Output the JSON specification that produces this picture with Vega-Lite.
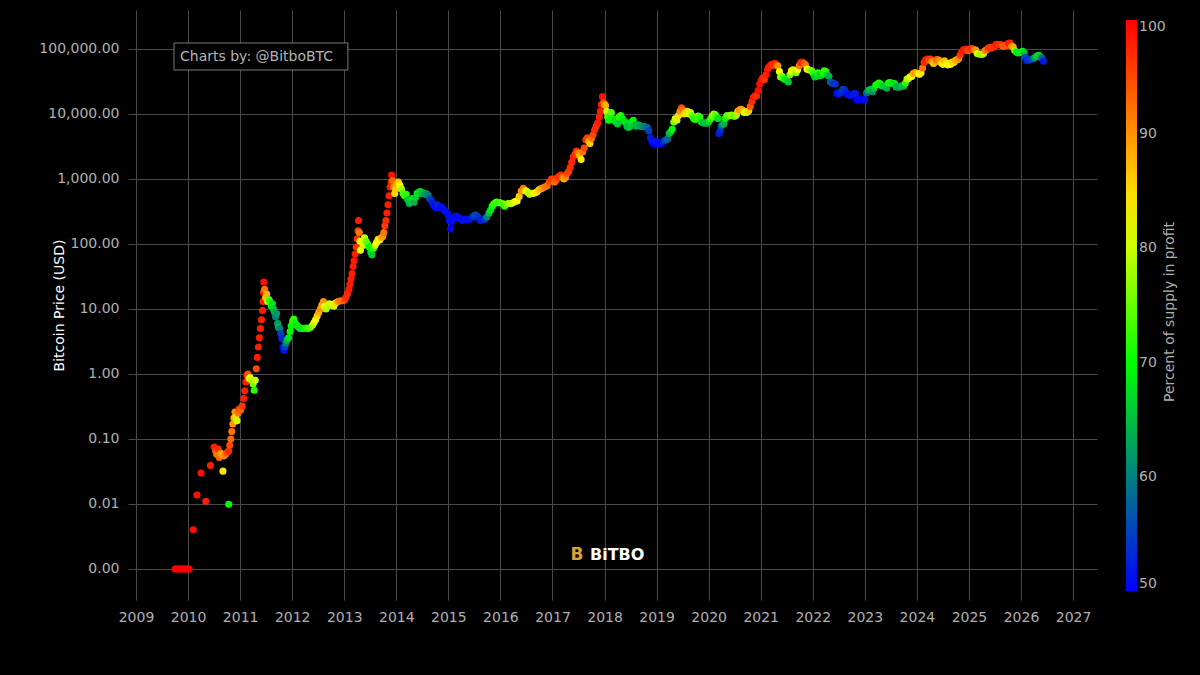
{
  "$schema": "https://vega.github.io/schema/vega-lite/v6.json",
  "width": 969,
  "height": 590,
  "autosize": {"type": "none"},
  "padding": {"left": 128, "top": 10, "right": 103, "bottom": 75},
  "background": "#000000",
  "datasets": {
    "btc": [
      {"t":2009.75,"p":0.001,"s":100},{"t":2009.78,"p":0.001,"s":100},{"t":2009.81,"p":0.001,"s":100},{"t":2009.84,"p":0.001,"s":100},
      {"t":2009.87,"p":0.001,"s":100},{"t":2009.90,"p":0.001,"s":100},{"t":2009.93,"p":0.001,"s":100},{"t":2009.96,"p":0.001,"s":100},
      {"t":2009.99,"p":0.001,"s":100},{"t":2010.02,"p":0.001,"s":100},
      {"t":2010.10,"p":0.004,"s":99},{"t":2010.17,"p":0.0137,"s":99},{"t":2010.25,"p":0.030,"s":99},{"t":2010.34,"p":0.011,"s":98},
      {"t":2010.43,"p":0.039,"s":98},{"t":2010.67,"p":0.032,"s":84},{"t":2010.78,"p":0.0099,"s":70},
      {"t":2010.50,"p":0.075,"s":98},{"t":2010.53,"p":0.065,"s":95},{"t":2010.55,"p":0.058,"s":92},{"t":2010.58,"p":0.070,"s":97},
      {"t":2010.60,"p":0.052,"s":93},{"t":2010.63,"p":0.060,"s":90},{"t":2010.66,"p":0.057,"s":88},{"t":2010.69,"p":0.055,"s":90},
      {"t":2010.72,"p":0.058,"s":92},{"t":2010.75,"p":0.062,"s":95},{"t":2010.78,"p":0.065,"s":97},{"t":2010.80,"p":0.080,"s":95},
      {"t":2010.82,"p":0.10,"s":93},{"t":2010.84,"p":0.13,"s":92},{"t":2010.86,"p":0.17,"s":90},{"t":2010.88,"p":0.21,"s":88},
      {"t":2010.90,"p":0.26,"s":90},{"t":2010.92,"p":0.22,"s":85},{"t":2010.94,"p":0.19,"s":80},{"t":2010.96,"p":0.25,"s":92},
      {"t":2010.98,"p":0.29,"s":96},{"t":2011.01,"p":0.28,"s":93},{"t":2011.04,"p":0.32,"s":96},{"t":2011.07,"p":0.42,"s":98},
      {"t":2011.09,"p":0.55,"s":98},{"t":2011.11,"p":0.75,"s":98},{"t":2011.13,"p":0.95,"s":98},{"t":2011.15,"p":1.0,"s":95},
      {"t":2011.17,"p":0.85,"s":85},{"t":2011.19,"p":0.88,"s":82},{"t":2011.22,"p":0.80,"s":78},{"t":2011.25,"p":0.70,"s":76},
      {"t":2011.27,"p":0.56,"s":72},{"t":2011.29,"p":0.80,"s":80},{"t":2011.31,"p":1.2,"s":95},{"t":2011.33,"p":1.8,"s":98},
      {"t":2011.35,"p":2.6,"s":98},{"t":2011.37,"p":3.6,"s":98},{"t":2011.39,"p":5.0,"s":98},{"t":2011.41,"p":6.8,"s":98},
      {"t":2011.43,"p":9.5,"s":98},{"t":2011.44,"p":13,"s":98},{"t":2011.45,"p":18,"s":98},{"t":2011.455,"p":26,"s":99},
      {"t":2011.47,"p":20,"s":92},{"t":2011.49,"p":15,"s":86},{"t":2011.51,"p":17,"s":88},{"t":2011.53,"p":13,"s":80},
      {"t":2011.55,"p":14,"s":75},{"t":2011.57,"p":13,"s":72},{"t":2011.60,"p":11,"s":70},{"t":2011.62,"p":12,"s":68},
      {"t":2011.64,"p":10,"s":66},{"t":2011.66,"p":9,"s":64},{"t":2011.68,"p":7.6,"s":60},{"t":2011.70,"p":8.5,"s":62},
      {"t":2011.72,"p":6,"s":62},{"t":2011.74,"p":5.2,"s":66},{"t":2011.76,"p":5,"s":60},{"t":2011.78,"p":4.2,"s":55},
      {"t":2011.80,"p":3.5,"s":53},{"t":2011.82,"p":2.6,"s":51},{"t":2011.84,"p":2.3,"s":51},{"t":2011.86,"p":2.6,"s":55},
      {"t":2011.88,"p":3.0,"s":60},{"t":2011.90,"p":3.3,"s":64},{"t":2011.93,"p":3.6,"s":68},{"t":2011.96,"p":4.5,"s":70},
      {"t":2011.98,"p":5.5,"s":70},{"t":2012.01,"p":6.5,"s":72},{"t":2012.03,"p":7.0,"s":72},{"t":2012.06,"p":6.0,"s":70},
      {"t":2012.09,"p":5.6,"s":68},{"t":2012.12,"p":5.3,"s":70},{"t":2012.15,"p":5.0,"s":68},{"t":2012.19,"p":5.0,"s":68},
      {"t":2012.23,"p":5.0,"s":70},{"t":2012.27,"p":5.1,"s":72},{"t":2012.31,"p":5.0,"s":72},{"t":2012.35,"p":5.2,"s":74},
      {"t":2012.39,"p":5.6,"s":78},{"t":2012.42,"p":6.2,"s":80},{"t":2012.45,"p":6.8,"s":82},{"t":2012.48,"p":7.8,"s":85},
      {"t":2012.51,"p":8.8,"s":88},{"t":2012.54,"p":10,"s":90},{"t":2012.57,"p":11.5,"s":88},{"t":2012.60,"p":13,"s":90},
      {"t":2012.62,"p":11,"s":82},{"t":2012.65,"p":10,"s":78},{"t":2012.68,"p":11,"s":80},{"t":2012.71,"p":12,"s":80},
      {"t":2012.74,"p":11.5,"s":78},{"t":2012.77,"p":11.8,"s":82},{"t":2012.80,"p":11,"s":80},{"t":2012.84,"p":12.5,"s":85},
      {"t":2012.88,"p":13,"s":90},{"t":2012.92,"p":13.3,"s":92},{"t":2012.96,"p":13.4,"s":92},{"t":2013.00,"p":13.6,"s":95},
      {"t":2013.03,"p":15,"s":97},{"t":2013.06,"p":17,"s":97},{"t":2013.09,"p":20,"s":98},{"t":2013.11,"p":24,"s":98},
      {"t":2013.13,"p":29,"s":98},{"t":2013.15,"p":35,"s":98},{"t":2013.17,"p":45,"s":98},{"t":2013.19,"p":55,"s":98},
      {"t":2013.21,"p":70,"s":98},{"t":2013.23,"p":90,"s":97},{"t":2013.25,"p":120,"s":97},{"t":2013.265,"p":160,"s":96},
      {"t":2013.275,"p":230,"s":98},{"t":2013.29,"p":150,"s":92},{"t":2013.30,"p":110,"s":85},{"t":2013.31,"p":80,"s":82},
      {"t":2013.33,"p":110,"s":82},{"t":2013.36,"p":95,"s":80},{"t":2013.39,"p":125,"s":80},{"t":2013.42,"p":110,"s":75},
      {"t":2013.45,"p":100,"s":74},{"t":2013.48,"p":90,"s":70},{"t":2013.51,"p":75,"s":68},{"t":2013.53,"p":68,"s":66},
      {"t":2013.56,"p":85,"s":72},{"t":2013.59,"p":95,"s":80},{"t":2013.62,"p":105,"s":82},{"t":2013.65,"p":118,"s":85},
      {"t":2013.68,"p":115,"s":82},{"t":2013.71,"p":125,"s":88},{"t":2013.74,"p":130,"s":90},{"t":2013.76,"p":150,"s":92},
      {"t":2013.78,"p":190,"s":96},{"t":2013.80,"p":230,"s":97},{"t":2013.82,"p":300,"s":98},{"t":2013.84,"p":400,"s":98},
      {"t":2013.86,"p":550,"s":98},{"t":2013.88,"p":750,"s":98},{"t":2013.90,"p":900,"s":98},{"t":2013.91,"p":1150,"s":99},
      {"t":2013.93,"p":950,"s":93},{"t":2013.95,"p":750,"s":90},{"t":2013.97,"p":600,"s":85},{"t":2013.99,"p":700,"s":86},
      {"t":2014.02,"p":850,"s":88},{"t":2014.04,"p":900,"s":86},{"t":2014.07,"p":800,"s":82},{"t":2014.10,"p":700,"s":78},
      {"t":2014.13,"p":600,"s":74},{"t":2014.16,"p":550,"s":72},{"t":2014.19,"p":580,"s":72},{"t":2014.22,"p":480,"s":66},
      {"t":2014.25,"p":420,"s":64},{"t":2014.28,"p":450,"s":66},{"t":2014.31,"p":500,"s":68},{"t":2014.34,"p":440,"s":64},
      {"t":2014.37,"p":520,"s":66},{"t":2014.40,"p":600,"s":68},{"t":2014.43,"p":620,"s":67},{"t":2014.46,"p":640,"s":68},
      {"t":2014.49,"p":600,"s":65},{"t":2014.52,"p":610,"s":65},{"t":2014.55,"p":580,"s":62},{"t":2014.58,"p":590,"s":62},
      {"t":2014.61,"p":560,"s":60},{"t":2014.64,"p":500,"s":56},{"t":2014.67,"p":470,"s":54},{"t":2014.70,"p":420,"s":52},
      {"t":2014.73,"p":380,"s":51},{"t":2014.76,"p":360,"s":51},{"t":2014.79,"p":400,"s":53},{"t":2014.82,"p":380,"s":52},
      {"t":2014.85,"p":360,"s":51},{"t":2014.88,"p":370,"s":51},{"t":2014.91,"p":340,"s":51},{"t":2014.94,"p":320,"s":51},
      {"t":2014.97,"p":310,"s":51},{"t":2015.00,"p":280,"s":51},{"t":2015.02,"p":230,"s":51},{"t":2015.04,"p":170,"s":50},
      {"t":2015.06,"p":220,"s":51},{"t":2015.09,"p":240,"s":51},{"t":2015.12,"p":255,"s":51},{"t":2015.15,"p":270,"s":51},
      {"t":2015.18,"p":260,"s":51},{"t":2015.21,"p":250,"s":51},{"t":2015.24,"p":240,"s":51},{"t":2015.27,"p":230,"s":51},
      {"t":2015.30,"p":235,"s":51},{"t":2015.33,"p":240,"s":51},{"t":2015.36,"p":235,"s":51},{"t":2015.40,"p":240,"s":51},
      {"t":2015.44,"p":250,"s":52},{"t":2015.48,"p":270,"s":54},{"t":2015.52,"p":280,"s":56},{"t":2015.55,"p":270,"s":55},
      {"t":2015.58,"p":250,"s":54},{"t":2015.61,"p":230,"s":52},{"t":2015.64,"p":240,"s":53},{"t":2015.67,"p":235,"s":52},
      {"t":2015.70,"p":240,"s":54},{"t":2015.74,"p":260,"s":60},{"t":2015.78,"p":300,"s":65},{"t":2015.81,"p":330,"s":68},
      {"t":2015.84,"p":380,"s":70},{"t":2015.87,"p":410,"s":72},{"t":2015.90,"p":430,"s":72},{"t":2015.93,"p":440,"s":74},
      {"t":2015.96,"p":430,"s":72},{"t":2016.00,"p":430,"s":74},{"t":2016.04,"p":420,"s":74},{"t":2016.08,"p":380,"s":72},
      {"t":2016.12,"p":410,"s":76},{"t":2016.16,"p":420,"s":78},{"t":2016.20,"p":415,"s":78},{"t":2016.24,"p":430,"s":80},
      {"t":2016.28,"p":450,"s":82},{"t":2016.32,"p":460,"s":82},{"t":2016.36,"p":540,"s":86},{"t":2016.40,"p":650,"s":90},
      {"t":2016.44,"p":720,"s":92},{"t":2016.47,"p":660,"s":86},{"t":2016.50,"p":650,"s":82},{"t":2016.53,"p":620,"s":80},
      {"t":2016.56,"p":580,"s":78},{"t":2016.59,"p":600,"s":80},{"t":2016.62,"p":600,"s":80},{"t":2016.66,"p":610,"s":82},
      {"t":2016.70,"p":630,"s":84},{"t":2016.74,"p":680,"s":86},{"t":2016.78,"p":710,"s":88},{"t":2016.82,"p":730,"s":90},
      {"t":2016.86,"p":760,"s":92},{"t":2016.90,"p":790,"s":92},{"t":2016.94,"p":900,"s":95},{"t":2016.98,"p":1000,"s":97},
      {"t":2017.01,"p":1000,"s":96},{"t":2017.04,"p":900,"s":92},{"t":2017.07,"p":960,"s":94},{"t":2017.10,"p":1050,"s":96},
      {"t":2017.13,"p":1100,"s":97},{"t":2017.16,"p":1150,"s":97},{"t":2017.19,"p":1050,"s":92},{"t":2017.22,"p":1000,"s":88},
      {"t":2017.25,"p":1050,"s":90},{"t":2017.28,"p":1200,"s":95},{"t":2017.31,"p":1300,"s":96},{"t":2017.34,"p":1500,"s":97},
      {"t":2017.37,"p":1800,"s":97},{"t":2017.40,"p":2200,"s":98},{"t":2017.43,"p":2400,"s":97},{"t":2017.46,"p":2700,"s":97},
      {"t":2017.49,"p":2500,"s":92},{"t":2017.52,"p":2300,"s":88},{"t":2017.55,"p":2000,"s":84},{"t":2017.58,"p":2600,"s":92},
      {"t":2017.61,"p":3000,"s":95},{"t":2017.64,"p":4000,"s":97},{"t":2017.67,"p":4300,"s":96},{"t":2017.70,"p":3800,"s":88},
      {"t":2017.72,"p":3500,"s":86},{"t":2017.75,"p":4200,"s":92},{"t":2017.78,"p":4800,"s":95},{"t":2017.81,"p":5700,"s":97},
      {"t":2017.84,"p":6500,"s":97},{"t":2017.87,"p":7300,"s":98},{"t":2017.90,"p":9000,"s":98},{"t":2017.92,"p":11000,"s":98},
      {"t":2017.94,"p":14000,"s":98},{"t":2017.96,"p":18500,"s":99},{"t":2017.98,"p":15000,"s":95},{"t":2018.00,"p":14000,"s":90},
      {"t":2018.02,"p":13500,"s":88},{"t":2018.04,"p":11000,"s":80},{"t":2018.06,"p":9000,"s":74},{"t":2018.08,"p":8000,"s":70},
      {"t":2018.10,"p":9500,"s":72},{"t":2018.13,"p":10500,"s":74},{"t":2018.16,"p":8500,"s":70},{"t":2018.19,"p":8000,"s":68},
      {"t":2018.22,"p":7500,"s":68},{"t":2018.25,"p":7000,"s":66},{"t":2018.28,"p":9000,"s":72},{"t":2018.31,"p":9500,"s":72},
      {"t":2018.34,"p":8500,"s":70},{"t":2018.37,"p":7800,"s":68},{"t":2018.40,"p":7500,"s":68},{"t":2018.43,"p":6500,"s":66},
      {"t":2018.46,"p":6200,"s":65},{"t":2018.49,"p":6500,"s":66},{"t":2018.52,"p":7500,"s":68},{"t":2018.55,"p":8000,"s":70},
      {"t":2018.58,"p":6800,"s":66},{"t":2018.61,"p":6500,"s":64},{"t":2018.64,"p":6800,"s":65},{"t":2018.67,"p":6600,"s":64},
      {"t":2018.70,"p":6500,"s":63},{"t":2018.73,"p":6400,"s":62},{"t":2018.76,"p":6400,"s":61},{"t":2018.79,"p":6300,"s":60},
      {"t":2018.82,"p":6200,"s":58},{"t":2018.85,"p":5500,"s":55},{"t":2018.88,"p":4300,"s":52},{"t":2018.91,"p":3800,"s":51},
      {"t":2018.94,"p":3500,"s":51},{"t":2018.97,"p":3400,"s":50},{"t":2019.00,"p":3800,"s":52},{"t":2019.03,"p":3600,"s":51},
      {"t":2019.06,"p":3500,"s":51},{"t":2019.09,"p":3500,"s":51},{"t":2019.12,"p":3700,"s":52},{"t":2019.15,"p":3900,"s":54},
      {"t":2019.18,"p":4000,"s":56},{"t":2019.21,"p":4100,"s":58},{"t":2019.24,"p":5000,"s":64},{"t":2019.27,"p":5300,"s":66},
      {"t":2019.30,"p":5800,"s":70},{"t":2019.33,"p":7500,"s":76},{"t":2019.36,"p":8500,"s":80},{"t":2019.39,"p":8000,"s":80},
      {"t":2019.42,"p":9500,"s":85},{"t":2019.45,"p":11000,"s":90},{"t":2019.48,"p":12500,"s":95},{"t":2019.50,"p":11500,"s":92},
      {"t":2019.53,"p":10000,"s":85},{"t":2019.56,"p":10500,"s":84},{"t":2019.59,"p":11000,"s":85},{"t":2019.62,"p":10000,"s":80},
      {"t":2019.65,"p":10500,"s":80},{"t":2019.68,"p":9500,"s":76},{"t":2019.71,"p":8500,"s":72},{"t":2019.74,"p":8200,"s":70},
      {"t":2019.77,"p":8500,"s":72},{"t":2019.80,"p":9300,"s":76},{"t":2019.83,"p":9000,"s":72},{"t":2019.86,"p":7500,"s":68},
      {"t":2019.89,"p":7300,"s":66},{"t":2019.92,"p":7200,"s":65},{"t":2019.95,"p":7300,"s":66},{"t":2019.98,"p":7200,"s":64},
      {"t":2020.01,"p":7800,"s":68},{"t":2020.04,"p":8500,"s":72},{"t":2020.07,"p":9300,"s":76},{"t":2020.10,"p":10000,"s":78},
      {"t":2020.13,"p":9700,"s":75},{"t":2020.16,"p":8800,"s":72},{"t":2020.18,"p":8500,"s":68},{"t":2020.20,"p":5000,"s":52},
      {"t":2020.22,"p":5500,"s":53},{"t":2020.24,"p":6500,"s":56},{"t":2020.26,"p":6800,"s":60},{"t":2020.29,"p":7000,"s":64},
      {"t":2020.32,"p":8500,"s":70},{"t":2020.35,"p":9500,"s":74},{"t":2020.38,"p":9300,"s":74},{"t":2020.41,"p":9400,"s":76},
      {"t":2020.44,"p":9600,"s":78},{"t":2020.47,"p":9300,"s":75},{"t":2020.50,"p":9200,"s":74},{"t":2020.53,"p":9600,"s":78},
      {"t":2020.56,"p":11000,"s":86},{"t":2020.59,"p":11500,"s":90},{"t":2020.62,"p":11800,"s":90},{"t":2020.65,"p":11500,"s":88},
      {"t":2020.68,"p":10500,"s":80},{"t":2020.71,"p":10700,"s":82},{"t":2020.74,"p":10600,"s":80},{"t":2020.77,"p":11200,"s":86},
      {"t":2020.80,"p":13000,"s":94},{"t":2020.83,"p":15500,"s":97},{"t":2020.86,"p":18000,"s":98},{"t":2020.89,"p":19000,"s":98},
      {"t":2020.92,"p":19000,"s":97},{"t":2020.95,"p":23000,"s":99},{"t":2020.98,"p":29000,"s":99},{"t":2021.01,"p":33000,"s":99},
      {"t":2021.04,"p":36000,"s":98},{"t":2021.07,"p":34000,"s":96},{"t":2021.10,"p":40000,"s":98},{"t":2021.13,"p":48000,"s":99},
      {"t":2021.15,"p":52000,"s":98},{"t":2021.18,"p":55000,"s":98},{"t":2021.21,"p":58000,"s":98},{"t":2021.24,"p":56000,"s":96},
      {"t":2021.27,"p":60000,"s":98},{"t":2021.30,"p":56000,"s":95},{"t":2021.33,"p":55000,"s":90},{"t":2021.36,"p":45000,"s":82},
      {"t":2021.38,"p":37000,"s":76},{"t":2021.41,"p":38000,"s":76},{"t":2021.44,"p":35000,"s":72},{"t":2021.47,"p":34000,"s":70},
      {"t":2021.50,"p":33000,"s":68},{"t":2021.53,"p":31000,"s":66},{"t":2021.56,"p":40000,"s":76},{"t":2021.59,"p":46000,"s":82},
      {"t":2021.62,"p":48000,"s":84},{"t":2021.65,"p":47000,"s":80},{"t":2021.68,"p":43000,"s":76},{"t":2021.71,"p":48000,"s":82},
      {"t":2021.74,"p":55000,"s":92},{"t":2021.77,"p":62000,"s":97},{"t":2021.80,"p":63000,"s":98},{"t":2021.83,"p":60000,"s":95},
      {"t":2021.86,"p":57000,"s":92},{"t":2021.89,"p":49000,"s":82},{"t":2021.92,"p":48000,"s":80},{"t":2021.95,"p":47000,"s":78},
      {"t":2021.98,"p":46000,"s":76},{"t":2022.01,"p":42000,"s":72},{"t":2022.04,"p":37000,"s":66},{"t":2022.07,"p":38000,"s":67},
      {"t":2022.10,"p":43000,"s":72},{"t":2022.13,"p":40000,"s":68},{"t":2022.16,"p":39000,"s":66},{"t":2022.19,"p":42000,"s":70},
      {"t":2022.22,"p":46000,"s":72},{"t":2022.25,"p":45000,"s":72},{"t":2022.28,"p":40000,"s":66},{"t":2022.31,"p":38000,"s":64},
      {"t":2022.34,"p":31000,"s":58},{"t":2022.37,"p":30000,"s":56},{"t":2022.40,"p":29500,"s":55},{"t":2022.43,"p":29000,"s":54},
      {"t":2022.46,"p":21000,"s":51},{"t":2022.49,"p":20000,"s":51},{"t":2022.52,"p":21000,"s":52},{"t":2022.55,"p":22000,"s":53},
      {"t":2022.58,"p":24000,"s":55},{"t":2022.61,"p":23500,"s":54},{"t":2022.64,"p":21000,"s":52},{"t":2022.67,"p":20000,"s":51},
      {"t":2022.70,"p":19500,"s":51},{"t":2022.73,"p":19200,"s":51},{"t":2022.76,"p":20000,"s":51},{"t":2022.79,"p":20500,"s":52},
      {"t":2022.82,"p":20800,"s":52},{"t":2022.85,"p":16500,"s":50},{"t":2022.88,"p":16500,"s":50},{"t":2022.91,"p":17000,"s":51},
      {"t":2022.94,"p":16800,"s":50},{"t":2022.97,"p":16600,"s":50},{"t":2023.00,"p":16700,"s":51},{"t":2023.03,"p":21000,"s":58},
      {"t":2023.06,"p":23000,"s":62},{"t":2023.09,"p":23500,"s":64},{"t":2023.12,"p":24000,"s":66},{"t":2023.15,"p":22000,"s":62},
      {"t":2023.18,"p":25000,"s":66},{"t":2023.21,"p":28000,"s":70},{"t":2023.24,"p":28500,"s":70},{"t":2023.27,"p":30000,"s":72},
      {"t":2023.30,"p":29000,"s":70},{"t":2023.33,"p":27000,"s":68},{"t":2023.36,"p":27000,"s":66},{"t":2023.39,"p":26500,"s":66},
      {"t":2023.42,"p":25000,"s":64},{"t":2023.45,"p":30000,"s":70},{"t":2023.48,"p":30500,"s":71},{"t":2023.51,"p":30000,"s":70},
      {"t":2023.54,"p":29200,"s":68},{"t":2023.57,"p":29300,"s":68},{"t":2023.60,"p":26000,"s":64},{"t":2023.63,"p":26000,"s":64},
      {"t":2023.66,"p":25800,"s":63},{"t":2023.69,"p":26500,"s":64},{"t":2023.72,"p":27500,"s":66},{"t":2023.75,"p":27000,"s":65},
      {"t":2023.78,"p":30000,"s":72},{"t":2023.81,"p":34500,"s":78},{"t":2023.84,"p":35000,"s":80},{"t":2023.87,"p":37500,"s":82},
      {"t":2023.90,"p":37800,"s":82},{"t":2023.93,"p":42000,"s":88},{"t":2023.96,"p":43500,"s":90},{"t":2023.99,"p":42500,"s":88},
      {"t":2024.02,"p":42000,"s":86},{"t":2024.05,"p":41000,"s":82},{"t":2024.08,"p":43000,"s":84},{"t":2024.11,"p":51000,"s":92},
      {"t":2024.14,"p":62000,"s":97},{"t":2024.17,"p":68000,"s":98},{"t":2024.20,"p":70000,"s":98},{"t":2024.23,"p":67000,"s":94},
      {"t":2024.26,"p":70000,"s":96},{"t":2024.29,"p":64000,"s":90},{"t":2024.32,"p":60000,"s":86},{"t":2024.35,"p":63000,"s":88},
      {"t":2024.38,"p":69000,"s":94},{"t":2024.41,"p":68000,"s":92},{"t":2024.44,"p":66000,"s":90},{"t":2024.47,"p":61000,"s":86},
      {"t":2024.50,"p":58000,"s":82},{"t":2024.53,"p":66000,"s":88},{"t":2024.56,"p":60000,"s":84},{"t":2024.59,"p":57000,"s":82},
      {"t":2024.62,"p":60000,"s":84},{"t":2024.65,"p":58000,"s":82},{"t":2024.68,"p":63000,"s":86},{"t":2024.71,"p":62000,"s":85},
      {"t":2024.74,"p":67000,"s":88},{"t":2024.77,"p":68000,"s":88},{"t":2024.80,"p":70000,"s":90},{"t":2024.83,"p":80000,"s":96},
      {"t":2024.86,"p":90000,"s":98},{"t":2024.89,"p":97000,"s":99},{"t":2024.92,"p":97000,"s":98},{"t":2024.95,"p":100000,"s":98},
      {"t":2024.98,"p":94000,"s":94},{"t":2025.01,"p":98000,"s":95},{"t":2025.04,"p":102000,"s":97},{"t":2025.07,"p":101000,"s":96},
      {"t":2025.10,"p":97000,"s":92},{"t":2025.13,"p":96000,"s":90},{"t":2025.16,"p":85000,"s":82},{"t":2025.19,"p":84000,"s":80},
      {"t":2025.22,"p":83000,"s":78},{"t":2025.25,"p":82000,"s":76},{"t":2025.28,"p":85000,"s":80},{"t":2025.31,"p":94000,"s":90},
      {"t":2025.34,"p":97000,"s":92},{"t":2025.37,"p":103000,"s":96},{"t":2025.40,"p":105000,"s":97},{"t":2025.43,"p":104000,"s":96},
      {"t":2025.46,"p":106000,"s":96},{"t":2025.49,"p":108000,"s":97},{"t":2025.52,"p":118000,"s":99},{"t":2025.55,"p":117000,"s":98},
      {"t":2025.58,"p":116000,"s":97},{"t":2025.61,"p":117000,"s":97},{"t":2025.64,"p":111000,"s":95},{"t":2025.67,"p":110000,"s":93},
      {"t":2025.70,"p":114000,"s":95},{"t":2025.73,"p":113000,"s":94},{"t":2025.76,"p":122000,"s":98},{"t":2025.79,"p":123000,"s":98},
      {"t":2025.82,"p":111000,"s":92},{"t":2025.85,"p":107000,"s":88},{"t":2025.88,"p":95000,"s":76},{"t":2025.91,"p":90000,"s":70},
      {"t":2025.94,"p":87000,"s":68},{"t":2025.97,"p":88000,"s":68},{"t":2026.00,"p":89000,"s":68},{"t":2026.03,"p":92000,"s":70},
      {"t":2026.06,"p":88000,"s":66},{"t":2026.08,"p":75000,"s":56},{"t":2026.10,"p":67000,"s":52},{"t":2026.13,"p":69000,"s":54},
      {"t":2026.16,"p":68000,"s":54},{"t":2026.19,"p":70000,"s":55},{"t":2026.22,"p":70000,"s":56},{"t":2026.25,"p":72000,"s":60},
      {"t":2026.28,"p":76000,"s":64},{"t":2026.31,"p":78000,"s":66},{"t":2026.34,"p":80000,"s":68},{"t":2026.37,"p":76000,"s":64},
      {"t":2026.40,"p":72000,"s":58},{"t":2026.43,"p":65000,"s":52}
    ],
    "box": [{"t":2009.73,"t2":2013.07,"p":123700,"p2":47500}],
    "boxtext": [{"t":2009.845,"p":75300,"label":"Charts by: @BitboBTC"}],
    "logo": [{"t":2017.47,"p":0.00164,"label":"B"}],
    "logotext": [{"t":2017.72,"p":0.00164,"label":"BiTBO"}],
    "cbtitle": [{"t":2028.86,"p":9.0,"label":"Percent of supply in profit"}]
  },
  "encoding": {
    "x": {
      "field": "t",
      "type": "quantitative",
      "scale": {"domain": [2008.846, 2027.46], "nice": false, "zero": false},
      "axis": {"title": null, "values": [2009,2010,2011,2012,2013,2014,2015,2016,2017,2018,2019,2020,2021,2022,2023,2024,2025,2026,2027], "format": "d", "labelPadding": 10}
    },
    "y": {
      "field": "p",
      "type": "quantitative",
      "scale": {"type": "log", "domain": [0.000333, 398000], "nice": false},
      "axis": {
        "title": "Bitcoin Price (USD)",
        "values": [0.001, 0.01, 0.1, 1, 10, 100, 1000, 10000, 100000],
        "format": ",.2f",
        "labelPadding": 9,
        "titleColor": "#ffffff",
        "titleFontSize": 14,
        "titleFontWeight": "normal",
        "titleX": -69,
        "titleBaseline": "middle"
      }
    }
  },
  "layer": [
    {
      "data": {"name": "box"},
      "mark": {"type": "rect", "fill": "#000000", "stroke": "#7a7a7a", "strokeWidth": 1},
      "encoding": {
        "x2": {"field": "t2"},
        "y2": {"field": "p2"}
      }
    },
    {
      "data": {"name": "boxtext"},
      "mark": {"type": "text", "align": "left", "baseline": "middle", "fontSize": 14, "font": "DejaVu Sans", "color": "#b4b4b4"},
      "encoding": {"text": {"field": "label"}}
    },
    {
      "data": {"name": "btc"},
      "mark": {"type": "circle", "size": 50, "opacity": 1},
      "encoding": {
        "color": {
          "field": "s",
          "type": "quantitative",
          "scale": {
            "domain": [50, 70, 82.5, 100],
            "range": ["#0000ff", "#00ff00", "#ffff00", "#ff0000"],
            "interpolate": "rgb"
          },
          "legend": {
            "title": null,
            "values": [50, 60, 70, 80, 90, 100]
          }
        }
      }
    },
    {
      "data": {"name": "logo"},
      "mark": {"type": "text", "align": "center", "baseline": "middle", "fontSize": 17, "fontWeight": "bold", "font": "DejaVu Sans", "color": "#d9a032"},
      "encoding": {"text": {"field": "label"}}
    },
    {
      "data": {"name": "logotext"},
      "mark": {"type": "text", "align": "left", "baseline": "middle", "fontSize": 16, "fontWeight": "bold", "font": "DejaVu Sans", "color": "#ffffff"},
      "encoding": {"text": {"field": "label"}}
    },
    {
      "data": {"name": "cbtitle"},
      "mark": {"type": "text", "align": "center", "baseline": "middle", "angle": 270, "fontSize": 14, "font": "DejaVu Sans", "color": "#b0b0b0"},
      "encoding": {"text": {"field": "label"}}
    }
  ],
  "config": {
    "font": "DejaVu Sans",
    "view": {"stroke": null},
    "axis": {
      "grid": true,
      "gridColor": "#4a4a4a",
      "gridWidth": 1,
      "domain": false,
      "ticks": false,
      "labelColor": "#b0b0b0",
      "labelFontSize": 14,
      "labelFont": "DejaVu Sans"
    },
    "legend": {
      "orient": "right",
      "offset": 19,
      "padding": 10,
      "gradientLength": 571,
      "gradientThickness": 11,
      "gradientStrokeColor": "#444444",
      "labelColor": "#b0b0b0",
      "labelFontSize": 14,
      "labelOffset": 6
    }
  }
}
